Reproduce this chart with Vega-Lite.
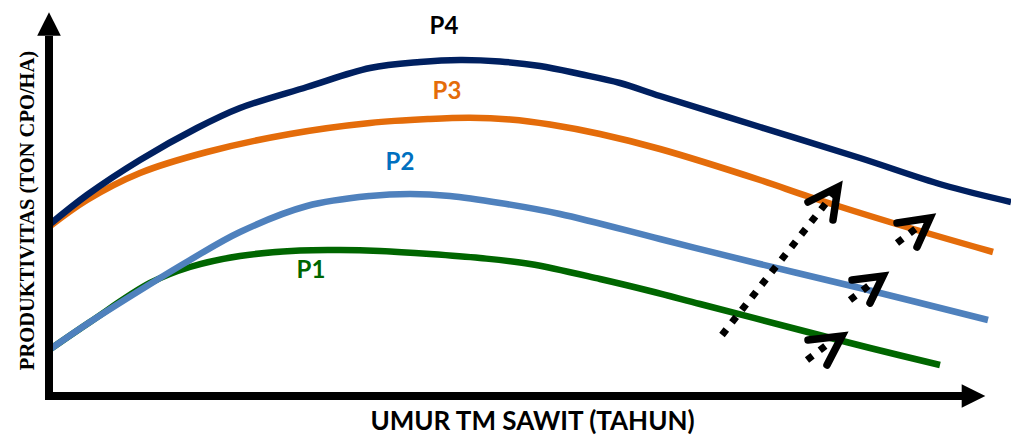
{
  "$schema": "https://vega.github.io/schema/vega-lite/v6.json",
  "width": 962,
  "height": 383,
  "autosize": "none",
  "padding": {"left": 49, "top": 13, "right": 0, "bottom": 39},
  "background": "white",
  "config": {"view": {"stroke": null}},
  "datasets": {
    "curves": [
      {"series": "P1", "x": 0, "y": 4.6}, {"series": "P1", "x": 4.1, "y": 7.4}, {"series": "P1", "x": 10.1, "y": 11.3}, {"series": "P1", "x": 14.1, "y": 12.9}, {"series": "P1", "x": 19.1, "y": 14.0}, {"series": "P1", "x": 25.1, "y": 14.55}, {"series": "P1", "x": 29.1, "y": 14.6}, {"series": "P1", "x": 33.1, "y": 14.5}, {"series": "P1", "x": 38.1, "y": 14.2}, {"series": "P1", "x": 43.1, "y": 13.8}, {"series": "P1", "x": 48.1, "y": 13.2}, {"series": "P1", "x": 55.1, "y": 11.7}, {"series": "P1", "x": 60.1, "y": 10.5}, {"series": "P1", "x": 65.1, "y": 9.2}, {"series": "P1", "x": 75.1, "y": 6.6}, {"series": "P1", "x": 82.1, "y": 4.8}, {"series": "P1", "x": 89.1, "y": 3.1},
      {"series": "P2", "x": 0, "y": 4.6}, {"series": "P2", "x": 4.1, "y": 7.4}, {"series": "P2", "x": 9.8, "y": 11.0}, {"series": "P2", "x": 14.1, "y": 13.6}, {"series": "P2", "x": 19.1, "y": 16.4}, {"series": "P2", "x": 25.8, "y": 19.0}, {"series": "P2", "x": 32.1, "y": 20.0}, {"series": "P2", "x": 36.1, "y": 20.2}, {"series": "P2", "x": 40.1, "y": 20.0}, {"series": "P2", "x": 45.1, "y": 19.3}, {"series": "P2", "x": 51.1, "y": 18.2}, {"series": "P2", "x": 61.1, "y": 15.7}, {"series": "P2", "x": 71.1, "y": 13.2}, {"series": "P2", "x": 81.1, "y": 10.8}, {"series": "P2", "x": 93.9, "y": 7.6},
      {"series": "P3", "x": 0, "y": 16.9}, {"series": "P3", "x": 3.8, "y": 19.6}, {"series": "P3", "x": 9.1, "y": 22.3}, {"series": "P3", "x": 15.8, "y": 24.4}, {"series": "P3", "x": 24.1, "y": 26.2}, {"series": "P3", "x": 32.1, "y": 27.3}, {"series": "P3", "x": 38.1, "y": 27.7}, {"series": "P3", "x": 42.1, "y": 27.82}, {"series": "P3", "x": 46.1, "y": 27.65}, {"series": "P3", "x": 50.1, "y": 27.15}, {"series": "P3", "x": 55.1, "y": 26.2}, {"series": "P3", "x": 61.1, "y": 24.7}, {"series": "P3", "x": 71.1, "y": 21.6}, {"series": "P3", "x": 76.1, "y": 19.9}, {"series": "P3", "x": 84.4, "y": 17.3}, {"series": "P3", "x": 94.4, "y": 14.4},
      {"series": "P4", "x": 0, "y": 17.1}, {"series": "P4", "x": 3.8, "y": 20.1}, {"series": "P4", "x": 9.1, "y": 23.6}, {"series": "P4", "x": 14.8, "y": 26.8}, {"series": "P4", "x": 19.1, "y": 28.8}, {"series": "P4", "x": 25.8, "y": 30.9}, {"series": "P4", "x": 32.1, "y": 32.8}, {"series": "P4", "x": 37.1, "y": 33.4}, {"series": "P4", "x": 41.1, "y": 33.6}, {"series": "P4", "x": 45.1, "y": 33.45}, {"series": "P4", "x": 49.1, "y": 33.0}, {"series": "P4", "x": 53.1, "y": 32.2}, {"series": "P4", "x": 57.1, "y": 31.3}, {"series": "P4", "x": 61.1, "y": 30.0}, {"series": "P4", "x": 71.1, "y": 26.9}, {"series": "P4", "x": 81.1, "y": 23.8}, {"series": "P4", "x": 89.4, "y": 21.1}, {"series": "P4", "x": 96.2, "y": 19.4}
    ],
    "axes": [
      {"id": "y", "ord": 1, "x": 0, "y": -0.4}, {"id": "y", "ord": 2, "x": 0, "y": 36.0},
      {"id": "x", "ord": 1, "x": -0.4, "y": 0}, {"id": "x", "ord": 2, "x": 91.3, "y": 0}
    ],
    "heads": [
      {"dir": "up", "x": 0, "y": 37.2},
      {"dir": "right", "x": 92.45, "y": 0}
    ],
    "chevrons": [
      {"id": "big", "ord": 1, "x": 75.9, "y": 19.4}, {"id": "big", "ord": 2, "x": 78.9, "y": 20.9}, {"id": "big", "ord": 3, "x": 78.4, "y": 17.6},
      {"id": "a", "ord": 1, "x": 84.8, "y": 17.3}, {"id": "a", "ord": 2, "x": 88.1, "y": 17.8}, {"id": "a", "ord": 3, "x": 86.8, "y": 14.9},
      {"id": "b", "ord": 1, "x": 80.3, "y": 11.6}, {"id": "b", "ord": 2, "x": 83.4, "y": 12.0}, {"id": "b", "ord": 3, "x": 82.1, "y": 9.3},
      {"id": "c", "ord": 1, "x": 75.9, "y": 5.6}, {"id": "c", "ord": 2, "x": 79.3, "y": 6.0}, {"id": "c", "ord": 3, "x": 77.8, "y": 3.1}
    ],
    "dots": [
      {"id": "big", "ord": 1, "x": 67.3, "y": 6.1}, {"id": "big", "ord": 2, "x": 78.5, "y": 20.3},
      {"id": "a", "ord": 1, "x": 84.8, "y": 15.3}, {"id": "a", "ord": 2, "x": 87.3, "y": 17.2},
      {"id": "b", "ord": 1, "x": 80.1, "y": 9.6}, {"id": "b", "ord": 2, "x": 82.6, "y": 11.5},
      {"id": "c", "ord": 1, "x": 75.8, "y": 3.6}, {"id": "c", "ord": 2, "x": 78.3, "y": 5.5}
    ],
    "labels": [
      {"series": "P1", "x": 26.2, "y": 12.5},
      {"series": "P2", "x": 35.1, "y": 23.3},
      {"series": "P3", "x": 39.8, "y": 30.4},
      {"series": "P4", "x": 39.5, "y": 36.9}
    ]
  },
  "encoding": {
    "x": {"field": "x", "type": "quantitative", "scale": {"domain": [0, 96.2], "nice": false, "zero": false},
      "axis": {"domain": false, "ticks": false, "labels": false, "grid": false, "title": "UMUR TM SAWIT (TAHUN)",
        "titleFont": "Lato", "titleFontSize": 26, "titleFontWeight": "bold", "titleColor": "black",
        "titleX": 483, "titleY": 33, "titleBaseline": "alphabetic", "titleAlign": "center", "titleAnchor": null}},
    "y": {"field": "y", "type": "quantitative", "scale": {"domain": [0, 38.3], "nice": false, "zero": false},
      "axis": {"domain": false, "ticks": false, "labels": false, "grid": false, "title": "PRODUKTIVITAS (TON CPO/HA)",
        "titleFont": "Liberation Serif", "titleFontSize": 20.5, "titleFontWeight": "bold", "titleColor": "black",
        "titleAngle": -90, "titleX": -16, "titleY": 197, "titleBaseline": "alphabetic", "titleAlign": "center", "titleAnchor": null}}
  },
  "layer": [
    {
      "data": {"name": "curves"},
      "transform": [{"filter": "datum.series === 'P1'"}],
      "mark": {"type": "line", "interpolate": "catmull-rom", "strokeWidth": 6.5, "color": "#006600"},
      "encoding": {}
    },
    {
      "data": {"name": "curves"},
      "transform": [{"filter": "datum.series === 'P2'"}],
      "mark": {"type": "line", "interpolate": "catmull-rom", "strokeWidth": 6.5, "color": "#4F81BD"},
      "encoding": {}
    },
    {
      "data": {"name": "curves"},
      "transform": [{"filter": "datum.series === 'P3'"}],
      "mark": {"type": "line", "interpolate": "catmull-rom", "strokeWidth": 6.5, "color": "#E46C0A"},
      "encoding": {}
    },
    {
      "data": {"name": "curves"},
      "transform": [{"filter": "datum.series === 'P4'"}],
      "mark": {"type": "line", "interpolate": "catmull-rom", "strokeWidth": 6.5, "color": "#002060"},
      "encoding": {}
    },
    {
      "data": {"name": "axes"},
      "mark": {"type": "line", "strokeWidth": 8, "color": "black", "strokeCap": "butt"},
      "encoding": {"detail": {"field": "id"}, "order": {"field": "ord"}}
    },
    {
      "data": {"name": "heads"},
      "mark": {"type": "point", "filled": true, "color": "black", "opacity": 1, "size": 560},
      "encoding": {"shape": {"field": "dir", "type": "nominal", "legend": null,
        "scale": {"domain": ["up", "right"], "range": ["M-1,1L0,-1L1,1Z", "M-1,-1L1,0L-1,1Z"]}}}
    },
    {
      "data": {"name": "dots"},
      "mark": {"type": "line", "strokeWidth": 7, "color": "black", "strokeDash": [7, 9], "strokeCap": "butt"},
      "encoding": {"detail": {"field": "id"}, "order": {"field": "ord"}}
    },
    {
      "data": {"name": "chevrons"},
      "mark": {"type": "line", "strokeWidth": 7.5, "color": "black", "strokeCap": "round", "strokeJoin": "miter"},
      "encoding": {"detail": {"field": "id"}, "order": {"field": "ord"}}
    },
    {
      "data": {"name": "labels"},
      "mark": {"type": "text", "font": "Lato", "fontSize": 24, "fontWeight": "bold", "baseline": "middle", "align": "center"},
      "encoding": {
        "text": {"field": "series"},
        "color": {"field": "series", "type": "nominal", "legend": null,
          "scale": {"domain": ["P1", "P2", "P3", "P4"], "range": ["#006600", "#0070C0", "#E46C0A", "#000000"]}}
      }
    }
  ]
}
